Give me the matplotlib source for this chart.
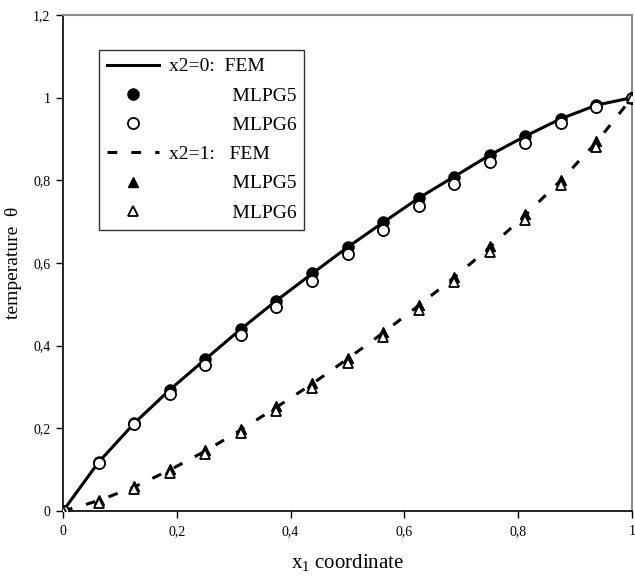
import matplotlib
matplotlib.use("Agg")
import matplotlib.pyplot as plt
from matplotlib.ticker import FuncFormatter

plt.rcParams['font.family'] = ['Liberation Serif', 'DejaVu Serif']
plt.rcParams['mathtext.fontset'] = 'custom'
plt.rcParams['mathtext.rm'] = 'Liberation Serif'
plt.rcParams['mathtext.it'] = 'Liberation Serif:italic'

x1 = [0.0, 0.0625, 0.125, 0.1875, 0.25, 0.3125, 0.375, 0.4375, 0.5,
      0.5625, 0.625, 0.6875, 0.75, 0.8125, 0.875, 0.9375, 1.0]

fem_x2_0 = [0.0, 0.118, 0.212, 0.293, 0.367, 0.440, 0.509, 0.574, 0.638,
            0.698, 0.757, 0.809, 0.861, 0.907, 0.949, 0.982, 1.0]
mlpg5_x2_0 = [0.0, 0.118, 0.212, 0.293, 0.367, 0.440, 0.509, 0.575, 0.638,
              0.698, 0.757, 0.809, 0.861, 0.907, 0.949, 0.982, 1.0]
mlpg6_x2_0 = [0.0, 0.115, 0.210, 0.284, 0.353, 0.426, 0.493, 0.556, 0.622,
              0.680, 0.738, 0.790, 0.845, 0.891, 0.938, 0.977, 1.0]

fem_x2_1 = [0.0, 0.025, 0.058, 0.099, 0.145, 0.196, 0.251, 0.307, 0.368,
            0.431, 0.497, 0.565, 0.638, 0.716, 0.800, 0.892, 1.0]
mlpg5_x2_1 = [0.0, 0.027, 0.060, 0.101, 0.147, 0.198, 0.253, 0.309, 0.370,
              0.433, 0.499, 0.567, 0.640, 0.718, 0.802, 0.894, 1.0]
mlpg6_x2_1 = [0.0, 0.020, 0.053, 0.093, 0.138, 0.188, 0.242, 0.298, 0.358,
              0.420, 0.486, 0.553, 0.626, 0.704, 0.788, 0.881, 1.0]

labels = ["x2=0:  FEM", "             MLPG5", "             MLPG6",
          "x2=1:   FEM", "             MLPG5", "             MLPG6"]

x_ticks = [0, 0.2, 0.4, 0.6, 0.8, 1.0]
y_ticks = [0, 0.2, 0.4, 0.6, 0.8, 1.0, 1.2]

fig = plt.figure(figsize=(6.35, 5.76), dpi=100)
ax = fig.add_axes([63/635, 1-511/576, (632-63)/635, (511-15)/576])

l1, = ax.plot(x1, fem_x2_0, color='black', lw=2.2, zorder=2)
l2, = ax.plot(x1, mlpg5_x2_0, 'o', color='black', ms=8, zorder=3)
l3, = ax.plot(x1, mlpg6_x2_0, 'o', mfc='white', mec='black', mew=1.3, ms=8, zorder=4)
l4, = ax.plot(x1, fem_x2_1, color='black', lw=2.2, dashes=(3.2, 4.6), zorder=2)
l5, = ax.plot(x1, mlpg5_x2_1, '^', color='black', ms=7.5, zorder=3)
l6, = ax.plot(x1, mlpg6_x2_1, '^', mfc='white', mec='black', mew=1.3, ms=7.5, zorder=4)

ax.set_xlim(0, 1)
ax.set_ylim(0, 1.2)
ax.set_xticks(x_ticks)
ax.set_yticks(y_ticks)
fmt = FuncFormatter(lambda v, p: ('%g' % v).replace('.', ','))
ax.xaxis.set_major_formatter(fmt)
ax.yaxis.set_major_formatter(fmt)
ax.tick_params(direction='out', length=5, width=1, labelsize=10)
ax.tick_params(axis='y', pad=4)
ax.tick_params(axis='x', pad=5)

for s in ['left', 'bottom']:
    ax.spines[s].set_color('black')
    ax.spines[s].set_linewidth(1.2)
for s in ['top', 'right']:
    ax.spines[s].set_color('#8c8c8c')
    ax.spines[s].set_linewidth(1.5)

ax.set_xlabel(r"x$_{\mathrm{1}}$ coordinate", fontsize=15, labelpad=10)
ax.set_ylabel("temperature  θ", fontsize=14, labelpad=8)

leg = ax.legend([l1, l2, l3, l4, l5, l6], labels, loc='upper left',
                bbox_to_anchor=((99-63)/569, (511-50)/496), borderaxespad=0,
                fontsize=14, frameon=True, fancybox=False, handlelength=2.7,
                handletextpad=0.5, labelspacing=0.6, borderpad=0.4)
leg.get_frame().set_edgecolor('black')
leg.get_frame().set_linewidth(1.0)

fig.savefig("out.png", dpi=100)
